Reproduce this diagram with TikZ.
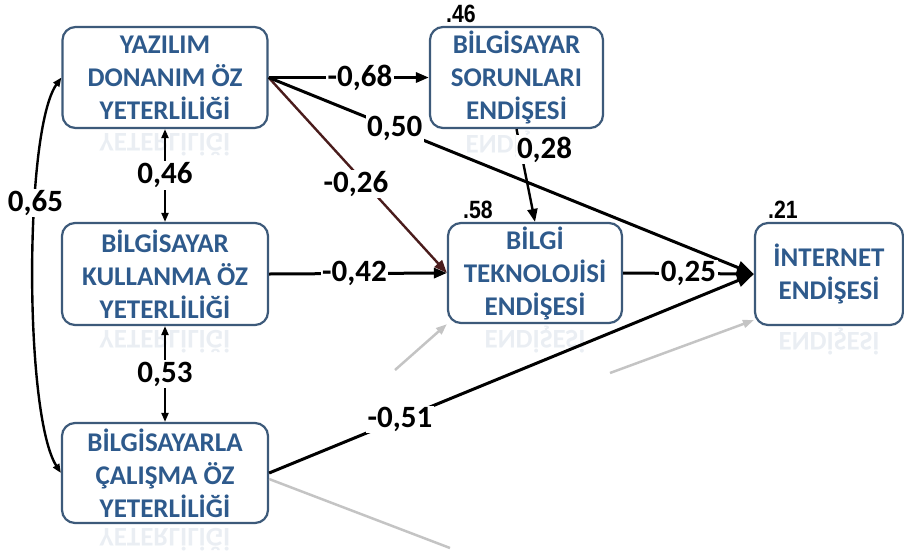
\documentclass[tikz,border=0pt]{standalone}
\usepackage{fontspec}
\setmainfont{Carlito}
\newfontfamily\numfont{Liberation Sans}
\usetikzlibrary{arrows.meta,calc}
\definecolor{boxtext}{HTML}{2E5A8C}
\definecolor{boxline}{HTML}{3D5A7A}
\definecolor{maroon}{HTML}{4A1C1C}
\definecolor{reflgray}{HTML}{C4C4C4}
\tikzset{
  varbox/.style={draw=boxline, line width=2.2pt, rounded corners=13pt, fill=white,
    text=boxtext, font=\bfseries\fontsize{27}{33}\selectfont, align=center, inner sep=0pt},
  reflect/.style={yscale=-1, text=boxtext, text opacity=0.10, font=\bfseries\fontsize{27}{33}\selectfont, inner sep=0pt},
  path/.style={line width=3pt, -{Triangle[length=13pt,width=10pt]}},
  corr/.style={line width=2pt, {Triangle[length=9pt,width=7pt]}-{Triangle[length=9pt,width=7pt]}},
  coef/.style={fill=white, inner sep=1.5pt, font=\bfseries\fontsize{31}{31}\selectfont},
  rsq/.style={font=\numfont\bfseries\fontsize{25}{25}\selectfont, xscale=0.85, inner sep=0pt},
  ghost/.style={draw=reflgray, line width=2.5pt}
}
\begin{document}
\begin{tikzpicture}[x=1pt,y=-1pt]
\useasboundingbox (0,0) rectangle (904,555);
% reflections (faint)
\node[reflect] (rA) at (165,145) {YETERLİLİĞİ};
\node[reflect] (rB) at (165,342) {YETERLİLİĞİ};
\node[reflect] (rC) at (165,540) {YETERLİLİĞİ};
\node[reflect] (rD) at (516,145) {ENDİŞESİ};
\node[reflect] (rE) at (535,340) {ENDİŞESİ};
\node[reflect] (rF) at (829,342) {ENDİŞESİ};
% ghost arrow ends (reflections)
\coordinate (g1) at (395,370);
\coordinate (g2) at (610,373);
\coordinate (g3) at (450,548);
% boxes
\node[varbox, minimum width=205pt, minimum height=101pt] (A) at (165,77.5) {YAZILIM\\DONANIM ÖZ\\YETERLİLİĞİ};
\node[varbox, minimum width=206pt, minimum height=102pt] (B) at (165,274) {BİLGİSAYAR\\KULLANMA ÖZ\\YETERLİLİĞİ};
\node[varbox, minimum width=206pt, minimum height=100pt] (C) at (165,473) {BİLGİSAYARLA\\ÇALIŞMA ÖZ\\YETERLİLİĞİ};
\node[varbox, minimum width=173pt, minimum height=101pt] (D) at (516.5,77.5) {BİLGİSAYAR\\SORUNLARI\\ENDİŞESİ};
\node[varbox, minimum width=174pt, minimum height=100pt] (E) at (535,273) {BİLGİ\\TEKNOLOJİSİ\\ENDİŞESİ};
\node[varbox, minimum width=148pt, minimum height=102pt] (F) at (829,274) {İNTERNET\\ENDİŞESİ};
% ghost arrows
\draw[ghost, -{Triangle[length=11pt,width=8pt]}] (g1) -- (E.south west);
\draw[ghost, -{Triangle[length=11pt,width=8pt]}] (g2) -- ($(F.south west)+(0,-6)$);
\draw[ghost] ($(C.east)+(0,6)$) -- (g3);
% R squared
\node[rsq] (r46) at (461,14) {.46};
\node[rsq] (r58) at (478,210) {.58};
\node[rsq] (r21) at (783,210) {.21};
% paths
\draw[path, color=maroon, line width=2.4pt] (A.east) -- (E.west) node[coef, text=black, pos=0.49, yshift=-11pt] (c26) {-0,26};
\draw[path] (A.east) -- (D.west) node[coef, pos=0.57] (c68) {-0,68};
\draw[path, -{Triangle[length=17pt,width=13pt]}] (A.east) -- (F.west) node[coef, pos=0.26] (c50) {0,50};
\draw[path] (B.east) -- (E.west) node[coef, pos=0.48] (c42) {-0,42};
\draw[path, -{Triangle[length=17pt,width=13pt]}] (E.east) -- (F.west) node[coef, pos=0.5] (c25) {0,25};
\draw[path, line width=2.4pt] (D.south) -- (E.north) node[coef, pos=0.22, xshift=24pt] (c28) {0,28};
\draw[path, -{Triangle[length=17pt,width=13pt]}] (C.east) -- (F.west) node[coef, pos=0.27] (c51) {-0,51};
% correlations
\draw[corr] (A.south) -- (B.north) node[coef, pos=0.5] (c46) {0,46};
\draw[corr] (B.south) -- (C.north) node[coef, pos=0.5] (c53) {0,53};
\draw[corr, line width=2.4pt] (A.west) .. controls (24,130) and (24,415) .. (C.west) node[coef, pos=0.36] (c65) {0,65};
\end{tikzpicture}
\end{document}
